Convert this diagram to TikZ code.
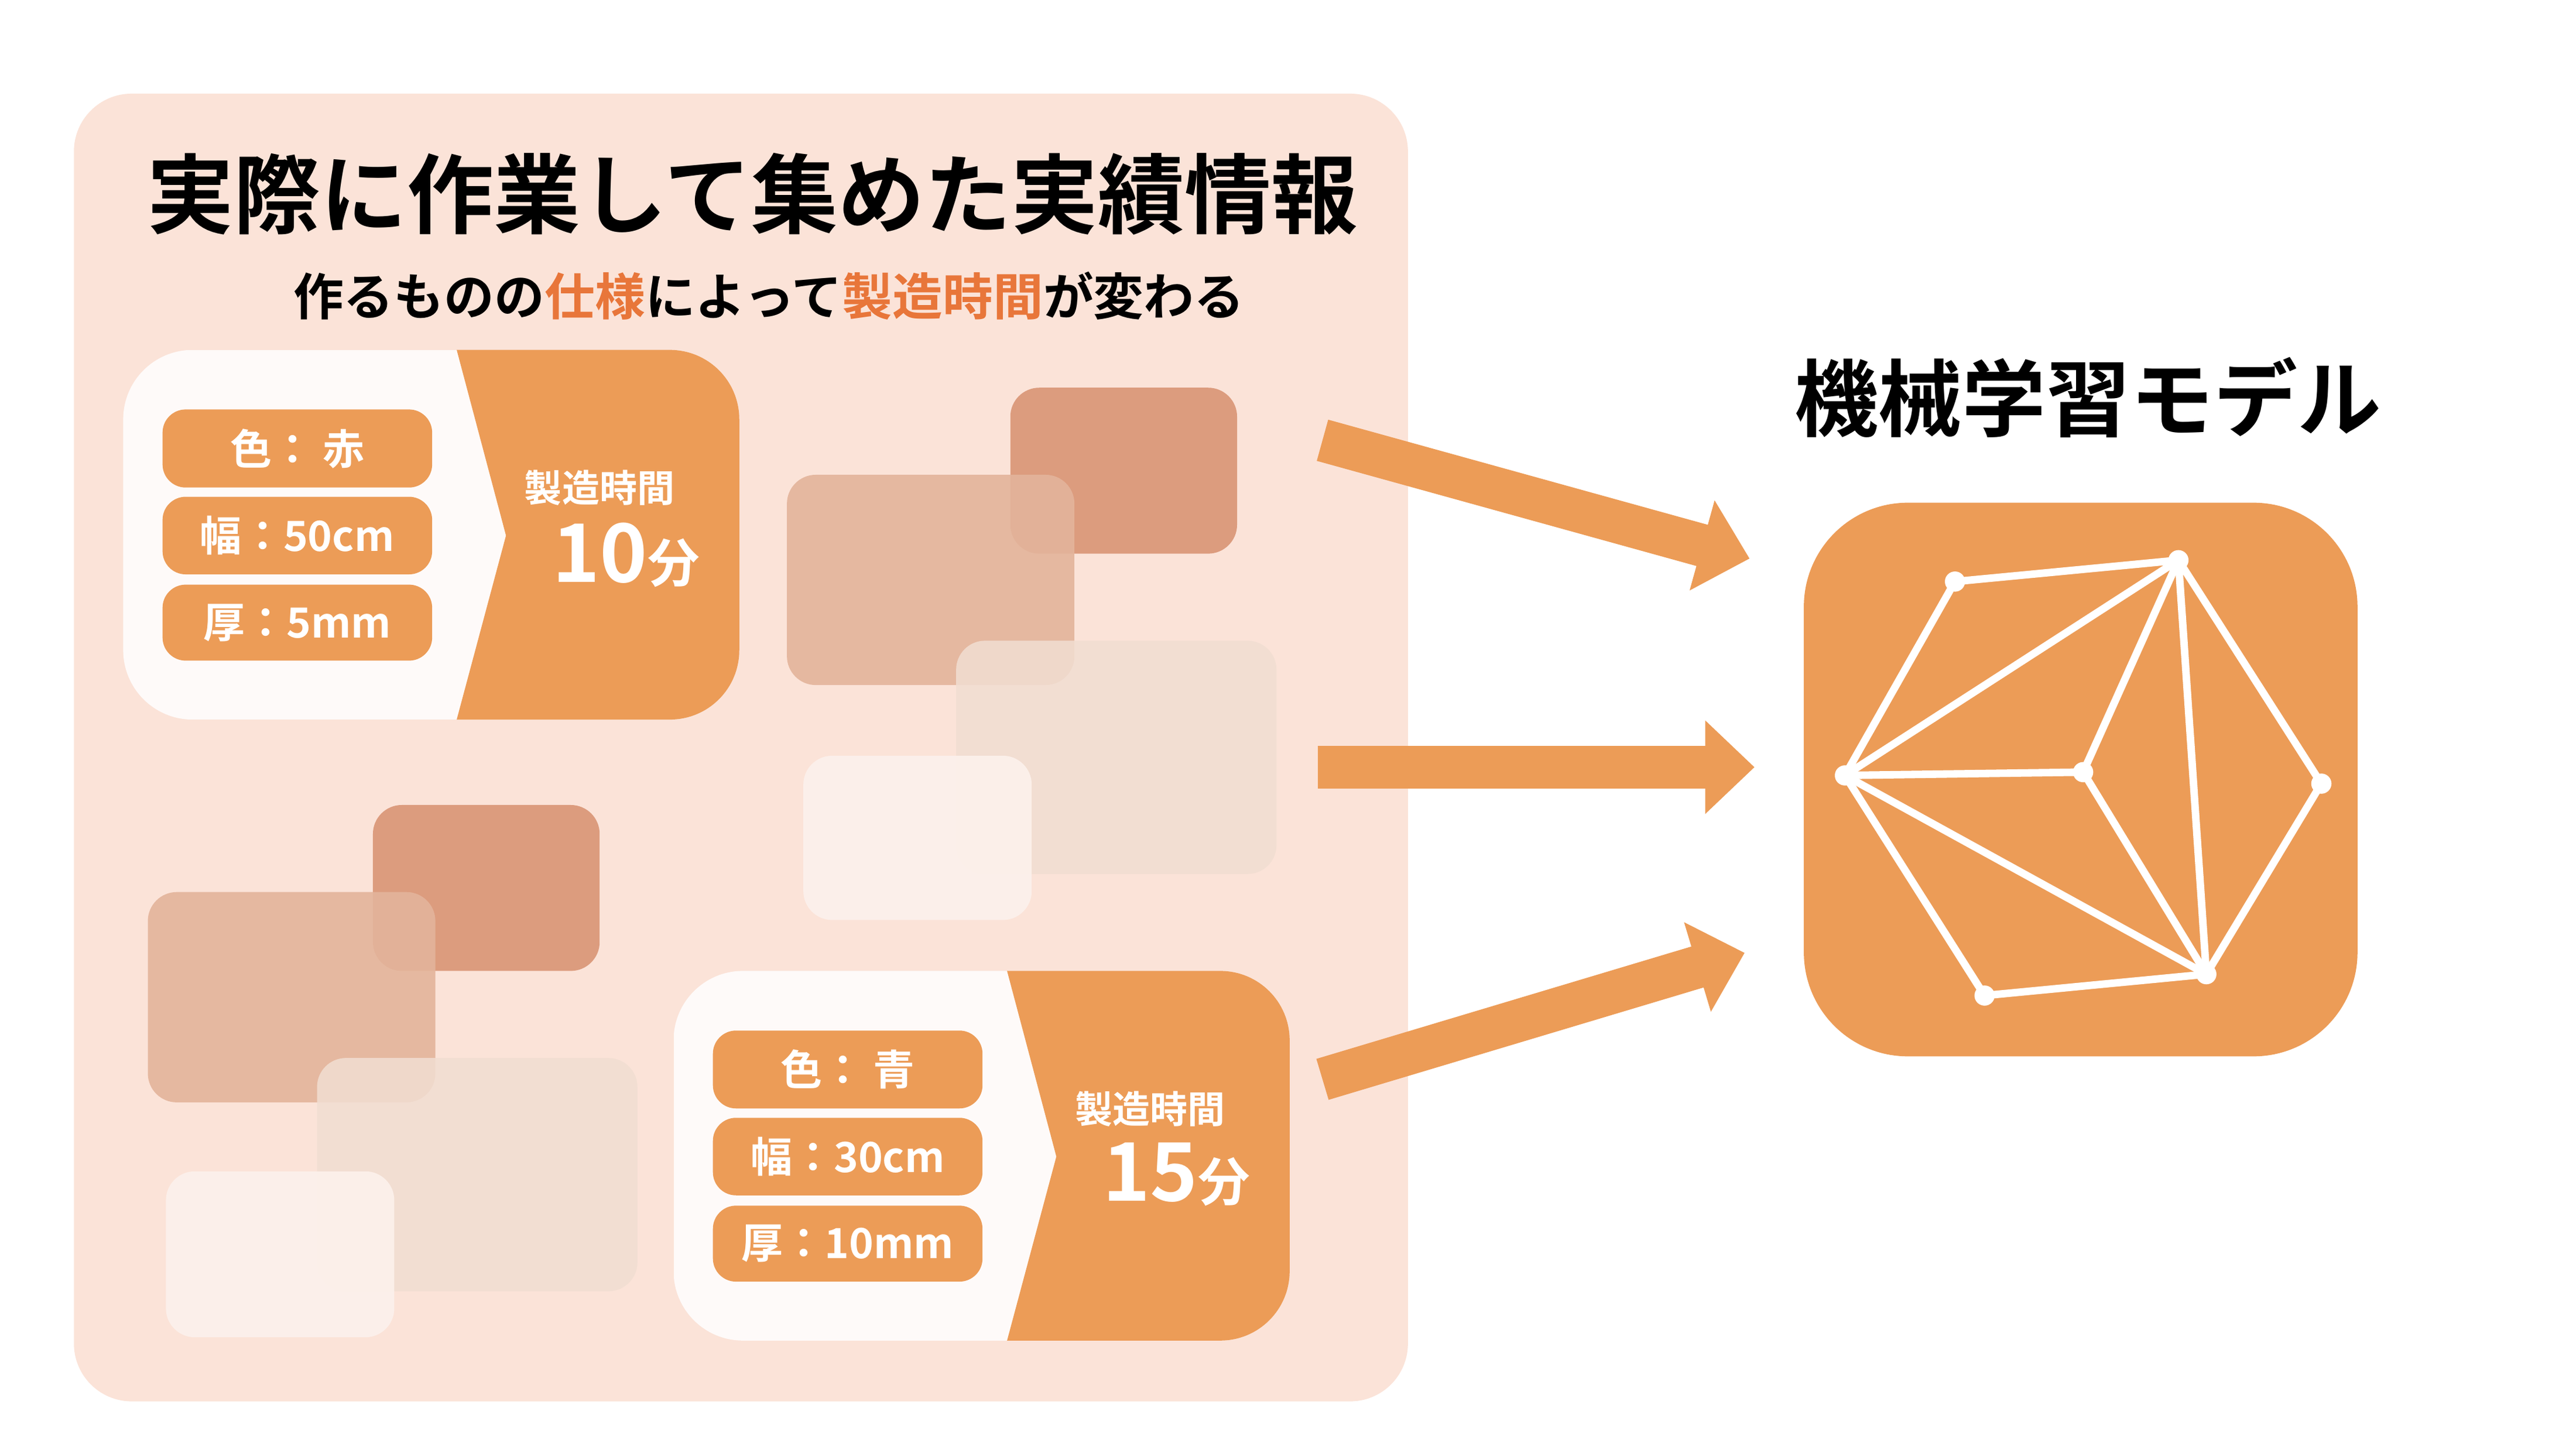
\documentclass[tikz,border=0pt]{standalone}
\usepackage{fontspec}
\setmainfont{Noto Sans CJK JP}[BoldFont={* Bold}]
\usetikzlibrary{arrows.meta,positioning}
\definecolor{panelbg}{HTML}{FBE3D8}
\definecolor{orng}{HTML}{EC9C57}
\definecolor{hilite}{HTML}{E8763A}
\definecolor{tileA}{HTML}{DC9C7E}
\definecolor{tileB}{HTML}{E3B49B}
\definecolor{tileC}{HTML}{F1DED2}
\definecolor{tileD}{HTML}{FCF1EC}
\tikzset{
  tag/.style={fill=orng,rounded corners=4pt,minimum width=1.64cm,minimum height=0.42cm,text=white,font=\bfseries\fontsize{7.2}{8}\selectfont},
  bigarrow/.style={orng,line width=0.26cm,-{Triangle[length=0.3cm,width=0.55cm]}},
  edge/.style={white,line width=1.3pt},
  vtx/.style={circle,fill=white,inner sep=0,minimum size=3.5pt}
}
\newcommand{\tile}[3]{\fill[#1,rounded corners=5pt] #2 rectangle #3;}
\newcommand{\card}[3]{% x-left, y-top, orange start
  \begin{scope}
    \clip[rounded corners=12pt] (#1,#2) rectangle ++(375,225);
    \fill[white!60!panelbg!40!white] (#1,#2) rectangle ++(375,225);
    \fill[orng] (#3,#2) -- ++(200,0) -- ++(0,225) -- ++(-200,0) -- ++(30,-112) -- cycle;
  \end{scope}}
\begin{document}
\begin{tikzpicture}[x=0.01cm,y=-0.01cm]
\useasboundingbox (0,0) rectangle (1568,882);
\fill[white] (0,0) rectangle (1568,882);
% panel
\fill[panelbg,rounded corners=10pt] (45,57) rectangle (857,853);
\node[font=\bfseries\fontsize{15}{17}\selectfont] (title) at (458,118) {実際に作業して集めた実績情報};
\node[font=\bfseries\fontsize{8.7}{10}\selectfont] (sub) at (468,180) {作るものの\textcolor{hilite}{仕様}によって\textcolor{hilite}{製造時間}が変わる};
% tiles
\tile{tileA}{(615,236)}{(753,337)}
\tile{tileB,opacity=0.9}{(479,289)}{(654,417)}
\tile{tileC,opacity=0.85}{(582,390)}{(777,532)}
\tile{tileD,opacity=0.9}{(489,460)}{(628,560)}
\tile{tileA}{(227,490)}{(365,591)}
\tile{tileB,opacity=0.9}{(90,543)}{(265,671)}
\tile{tileC,opacity=0.85}{(193,644)}{(388,786)}
\tile{tileD,opacity=0.9}{(101,713)}{(240,814)}
% card 1
\card{75}{213}{278}
\node[tag] (c1) at (181,273) {色： 赤};
\node[tag] (w1) at (181,326) {幅：50cm};
\node[tag] (t1) at (181,379) {厚：5mm};
\node[text=white,font=\bfseries\fontsize{6.5}{7}\selectfont] (lbl1) at (365,297) {製造時間};
\node[text=white,font=\bfseries\fontsize{14}{15}\selectfont] (val1) at (381,338) {10\fontsize{9}{10}\selectfont 分};
% card 2
\card{410}{591}{613}
\node[tag] (c2) at (516,651) {色： 青};
\node[tag] (w2) at (516,704) {幅：30cm};
\node[tag] (t2) at (516,757) {厚：10mm};
\node[text=white,font=\bfseries\fontsize{6.5}{7}\selectfont] (lbl2) at (700,675) {製造時間};
\node[text=white,font=\bfseries\fontsize{14}{15}\selectfont] (val2) at (716,715) {15\fontsize{9}{10}\selectfont 分};
% model
\node[font=\bfseries\fontsize{14.5}{16}\selectfont] (mtitle) at (1271,242) {機械学習モデル};
\fill[orng,rounded corners=18pt] (1098,306) rectangle (1435,643);
\coordinate (a1) at (805,268); \coordinate (a2) at (1065,340);
\coordinate (b1) at (802,467); \coordinate (b2) at (1068,467);
\coordinate (d1) at (805,657); \coordinate (d2) at (1062,580);
\draw[bigarrow] (a1) -- (a2);
\draw[bigarrow] (b1) -- (b2);
\draw[bigarrow] (d1) -- (d2);
% network
\node[vtx] (A) at (1190,354) {};
\node[vtx] (B) at (1326,341) {};
\node[vtx] (C) at (1123,472) {};
\node[vtx] (D) at (1268,470) {};
\node[vtx] (E) at (1413,477) {};
\node[vtx] (F) at (1208,606) {};
\node[vtx] (G) at (1343,593) {};
\foreach \u/\v in {A/B,A/C,B/C,B/D,B/G,B/E,C/D,C/G,C/F,D/G,E/G,F/G}
  \draw[edge] (\u.center) -- (\v.center);
\end{tikzpicture}
\end{document}
